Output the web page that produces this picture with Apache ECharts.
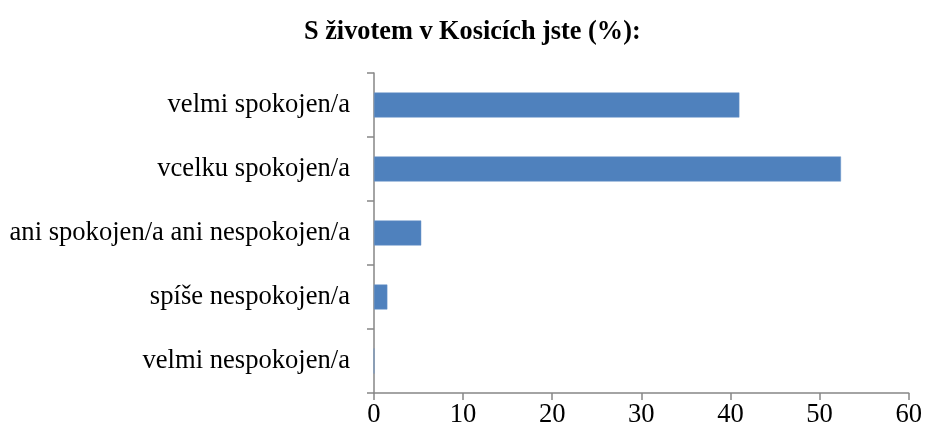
<!DOCTYPE html>
<html>
<head>
<meta charset="utf-8">
<script src="https://cdn.jsdelivr.net/npm/echarts@6/dist/echarts.min.js"></script>
<style>
  html, body { margin: 0; padding: 0; background: #fff; }
  #main { width: 925px; height: 436px; }
</style>
</head>
<body>
<div id="main"></div>
<script>
const categories = [
  'velmi spokojen/a',
  'vcelku spokojen/a',
  'ani spokojen/a ani nespokojen/a',
  'spíše nespokojen/a',
  'velmi nespokojen/a'
];
const values = [41.0, 52.4, 5.3, 1.5, 0];
const xTicks = [0, 10, 20, 30, 40, 50, 60];

const font = '"Liberation Serif", "Times New Roman", serif';
const axisColor = '#868686';

const chart = echarts.init(document.getElementById('main'));
chart.setOption({
  animation: false,
  title: {
    text: 'S životem v Kosicích jste (%):',
    left: 299,
    top: 14,
    textStyle: { fontFamily: font, fontSize: 26.3, fontWeight: 'bold', color: '#000' }
  },
  grid: { left: 374, right: 15, top: 73, bottom: 43, containLabel: false },
  xAxis: {
    type: 'value',
    min: xTicks[0],
    max: xTicks[xTicks.length - 1],
    interval: 10,
    splitLine: { show: false },
    axisLine: { show: true, lineStyle: { color: axisColor, width: 1.5 } },
    axisTick: { show: true, length: 7, lineStyle: { color: axisColor, width: 1.5 } },
    axisLabel: { fontFamily: font, fontSize: 26.6, color: '#000', margin: 9 }
  },
  yAxis: {
    type: 'category',
    data: categories,
    inverse: true,
    axisLine: { show: true, lineStyle: { color: axisColor, width: 1.5 } },
    axisTick: { show: true, length: 7, lineStyle: { color: axisColor, width: 1.5 } },
    axisLabel: { fontFamily: font, fontSize: 26.6, color: '#000', margin: 24 }
  },
  series: [{
    type: 'bar',
    data: values,
    barWidth: 25,
    itemStyle: { color: '#4F81BD', borderColor: '#6A94C8', borderWidth: 0.5 }
  }]
});
</script>
</body>
</html>
